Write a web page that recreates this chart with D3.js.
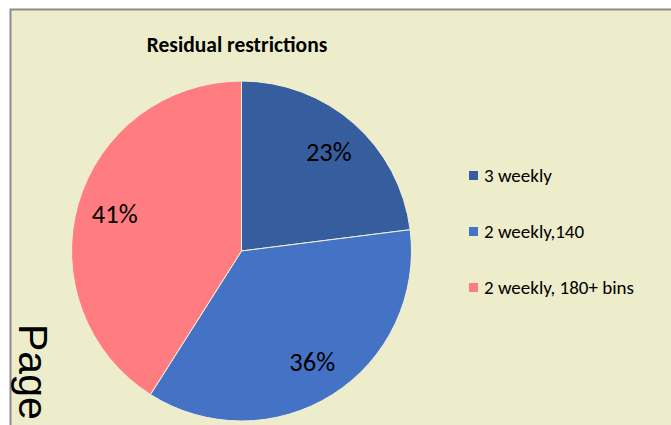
<!DOCTYPE html>
<html>
<head>
<meta charset="utf-8">
<script src="https://cdn.jsdelivr.net/npm/d3@7"></script>
<style>
  html, body { margin: 0; padding: 0; background: #fff; overflow: hidden; }
  svg { display: block; }
</style>
</head>
<body>
<svg id="chart" width="671" height="425"></svg>
<script>
// data
var categories = ["3 weekly", "2 weekly,140", "2 weekly, 180+ bins"];
var shares = [23, 36, 41];
var sliceColors = ["#365E9F", "#4472C4", "#FF7C80"];
var chartTitle = "Residual restrictions";
var sideText = "Page";

var width = 671, height = 425;
var cx = 241.5, cy = 251, radius = 170;
var labelRadius = 132;
var uiFont = "Carlito, Lato, 'Open Sans', sans-serif";

var svg = d3.select("#chart");

// chart area frame (runs off the right / bottom edge)
svg.append("rect")
    .attr("x", 10.5).attr("y", 9.5)
    .attr("width", 700).attr("height", 450)
    .attr("fill", "#EDEDCB")
    .attr("stroke", "#8C8C8C")
    .attr("stroke-width", 2);

// title
svg.append("text")
    .attr("x", 237).attr("y", 52)
    .attr("text-anchor", "middle")
    .style("font-family", uiFont)
    .style("font-weight", "bold")
    .style("font-size", "21.5px")
    .attr("fill", "#000")
    .text(chartTitle);

var color = d3.scaleOrdinal().domain(categories).range(sliceColors);

var pie = d3.pie().sort(null).value(function (d) { return d.value; });
var arcs = pie(categories.map(function (c, i) { return {name: c, value: shares[i]}; }));

var arc = d3.arc().innerRadius(0).outerRadius(radius);
var labelArc = d3.arc().innerRadius(labelRadius).outerRadius(labelRadius);

var g = svg.append("g").attr("transform", "translate(" + cx + "," + cy + ")");

g.selectAll("path.slice")
    .data(arcs)
    .enter().append("path")
    .attr("class", "slice")
    .attr("d", arc)
    .attr("fill", function (d) { return color(d.data.name); })
    .attr("stroke", "#F4F2DC")
    .attr("stroke-width", 1);

var total = d3.sum(shares);
g.selectAll("text.pct")
    .data(arcs)
    .enter().append("text")
    .attr("class", "pct")
    .attr("transform", function (d) { return "translate(" + labelArc.centroid(d) + ")"; })
    .attr("text-anchor", "middle")
    .attr("dy", "0.33em")
    .style("font-family", uiFont)
    .style("font-size", "26.5px")
    .attr("fill", "#000")
    .text(function (d) { return Math.round(d.data.value / total * 100) + "%"; });

// legend
var legendY = d3.scalePoint().domain(categories).range([175.5, 287.5]);
var legend = svg.append("g").selectAll("g")
    .data(categories)
    .enter().append("g")
    .attr("transform", function (d) { return "translate(469," + legendY(d) + ")"; });

legend.append("rect")
    .attr("x", 0).attr("y", -4.5)
    .attr("width", 9).attr("height", 9)
    .attr("fill", function (d) { return color(d); });

legend.append("text")
    .attr("x", 15).attr("y", 0)
    .attr("dy", "0.35em")
    .style("font-family", uiFont)
    .style("font-size", "19px")
    .attr("fill", "#000")
    .text(function (d) { return d; });

// stray page text on the left, rotated
svg.append("text")
    .attr("transform", "translate(19,324) rotate(90)")
    .style("font-family", "'Liberation Sans', Arial, sans-serif")
    .style("font-size", "41px")
    .attr("fill", "#000")
    .text(sideText);
</script>
</body>
</html>
